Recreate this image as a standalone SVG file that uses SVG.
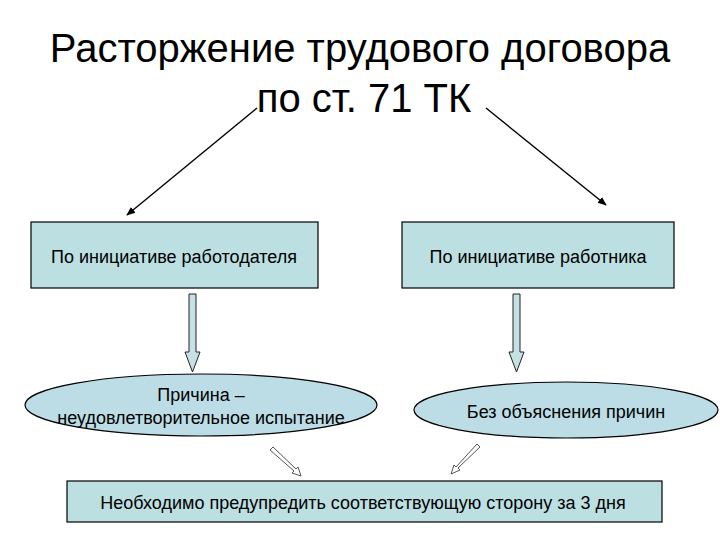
<svg xmlns="http://www.w3.org/2000/svg" width="720" height="540" viewBox="0 0 720 540">
<style>
.t{font-family:"Liberation Sans",Arial,sans-serif;fill:#000}
.title{font-size:40px}
.lbl{font-size:18px}
.box{fill:#bcdfe2;stroke:#000;stroke-width:1.2}
.ell{fill:#bcdde6;stroke:#000;stroke-width:1.2}
.blk{fill:#c4e2e5;stroke:#222;stroke-width:1}
.thin{fill:#fff;stroke:#555;stroke-width:1}
.line{stroke:#000;stroke-width:1.4;fill:none}
</style>
<defs>
<marker id="ah" viewBox="0 0 10 10" refX="9" refY="5" markerWidth="9" markerHeight="9" orient="auto" markerUnits="userSpaceOnUse">
<path d="M0,1 L10,5 L0,9 z" fill="#000"/>
</marker>
</defs>
<rect width="720" height="540" fill="#fff"/>
<g id="title">
<text class="t title" x="360" y="62" text-anchor="middle">Расторжение трудового договора</text>
<text class="t title" x="364" y="112" text-anchor="middle">по ст. 71 ТК</text>
</g>
<g id="connectors">
<line class="line" x1="257" y1="108" x2="127" y2="215" marker-end="url(#ah)"/>
<line class="line" x1="486" y1="108" x2="606" y2="205" marker-end="url(#ah)"/>
<path class="blk" d="M189,294 L196,294 L196,352 L200,352 L192.5,372 L185,352 L189,352 z"/>
<path class="blk" d="M513,294 L520,294 L520,352 L524,352 L516.5,372 L509,352 L513,352 z"/>
<path class="thin" d="M270,450 L273,447 L296,469 L298,467 L301,476 L292,473 L294,471 z"/>
<path class="thin" d="M477,444 L480,447 L458,468 L460,470 L451,474 L454,465 L456,467 z"/>
</g>
<g id="employer">
<rect class="box" x="31" y="222" width="287" height="66"/>
<text class="t lbl" x="174" y="263" text-anchor="middle">По инициативе работодателя</text>
</g>
<g id="employee">
<rect class="box" x="402" y="222" width="272" height="66"/>
<text class="t lbl" x="538" y="263" text-anchor="middle">По инициативе работника</text>
</g>
<g id="reason1">
<ellipse class="ell" cx="201" cy="405" rx="176" ry="31"/>
<text class="t lbl" x="201" y="401" text-anchor="middle">Причина –</text>
<text class="t lbl" x="201" y="424" text-anchor="middle">неудовлетворительное испытание</text>
</g>
<g id="reason2">
<ellipse class="ell" cx="566" cy="410" rx="152" ry="28"/>
<text class="t lbl" x="566" y="418" text-anchor="middle">Без объяснения причин</text>
</g>
<g id="notice">
<rect class="box" x="67" y="481" width="595" height="41"/>
<text class="t lbl" x="363" y="509" text-anchor="middle">Необходимо предупредить соответствующую сторону за 3 дня</text>
</g>
</svg>
